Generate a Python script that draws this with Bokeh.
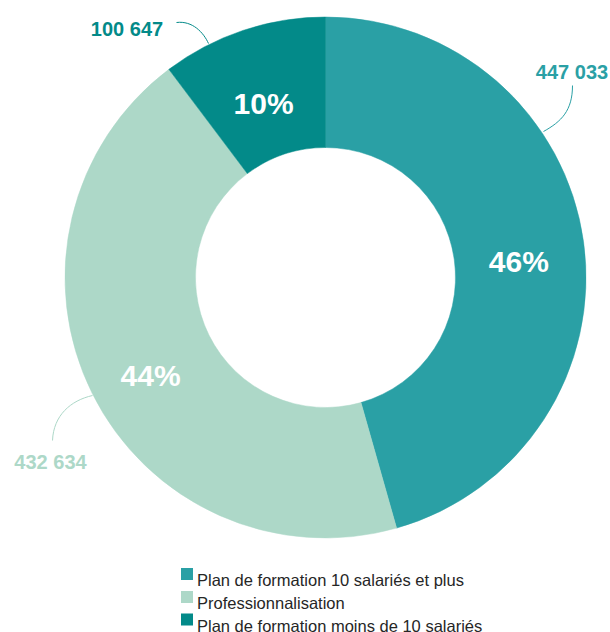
import math
from bokeh.plotting import figure
from bokeh.models import Range1d, ColumnDataSource
from bokeh.core.properties import value
from bokeh.embed import file_html
from bokeh.resources import INLINE

# ---- data ----
categories = ["Plan de formation 10 salariés et plus",
              "Professionnalisation",
              "Plan de formation moins de 10 salariés"]
values = [447033, 432634, 100647]
value_labels = ["447 033", "432 634", "100 647"]
colors = ["#2AA0A5", "#ADD8C8", "#038A89"]

# ---- layout (pixel-like coordinates, y measured downward then negated) ----
W, H = 610, 632
CX, CY = 325, 277
R_OUT, R_IN = 260.5, 130
FONT = value("Liberation Sans")

p = figure(width=W, height=H, output_backend="svg", toolbar_location=None,
           x_range=Range1d(0, W), y_range=Range1d(-H, 0),
           x_axis_type=None, y_axis_type=None, min_border=0)
p.grid.visible = False
p.outline_line_color = None
p.background_fill_color = "white"
p.border_fill_color = "white"

total = float(sum(values))
fracs = [v / total for v in values]
cum = [0.0]
for f in fracs:
    cum.append(cum[-1] + f)
start = [math.pi / 2 - 2 * math.pi * c for c in cum[:-1]]
end = [math.pi / 2 - 2 * math.pi * c for c in cum[1:]]

src = ColumnDataSource(dict(cat=categories, val=values, start=start, end=end, color=colors))
p.annular_wedge(x=CX, y=-CY, inner_radius=R_IN, outer_radius=R_OUT,
                start_angle="start", end_angle="end", direction="clock",
                fill_color="color", line_color="color", line_width=0.5, source=src)

# percentage labels at mid-angle
pct = [f"{round(f * 100)}%" for f in fracs]
mid = [(a + b) / 2 for a, b in zip(start, end)]
rm = (R_OUT + R_IN) / 2
px = [CX + rm * math.cos(a) for a in mid]
py = [-CY + rm * math.sin(a) - 11 for a in mid]
p.text(x=px, y=py, text=pct, text_font=FONT, text_font_style="bold",
       text_font_size="30px", text_color="white", text_align="center",
       text_baseline="alphabetic")

# outside value labels (positions in layout)
lab_x = [571.5, 50, 126.5]
lab_y = [-71, -461, -28]
p.text(x=lab_x, y=lab_y, text=value_labels, text_font=FONT, text_font_style="bold",
       text_font_size="20px", text_color=colors, text_align="center",
       text_baseline="alphabetic")

# leader lines
p.bezier(x0=[572, 52, 176], y0=[-85, -440, -22],
         x1=[543, 92, 208], y1=[-131, -395, -43],
         cx0=[572, 53, 192], cy0=[-110, -415, -20],
         cx1=[561, 70, 203], cy1=[-121, -400, -32],
         line_color=colors, line_width=1)

# legend
leg_base = [579.5, 602.5, 625]
p.rect(x=[186.5] * 3, y=[-(b - 6) for b in leg_base], width=12, height=12,
       fill_color=colors, line_color=None)
p.text(x=[196.5] * 3, y=[-b for b in leg_base], text=categories, text_font=FONT,
       text_font_size="16.5px", text_color="#262626", text_align="left",
       text_baseline="alphabetic")

open("out.html", "w").write(file_html(p, INLINE))
